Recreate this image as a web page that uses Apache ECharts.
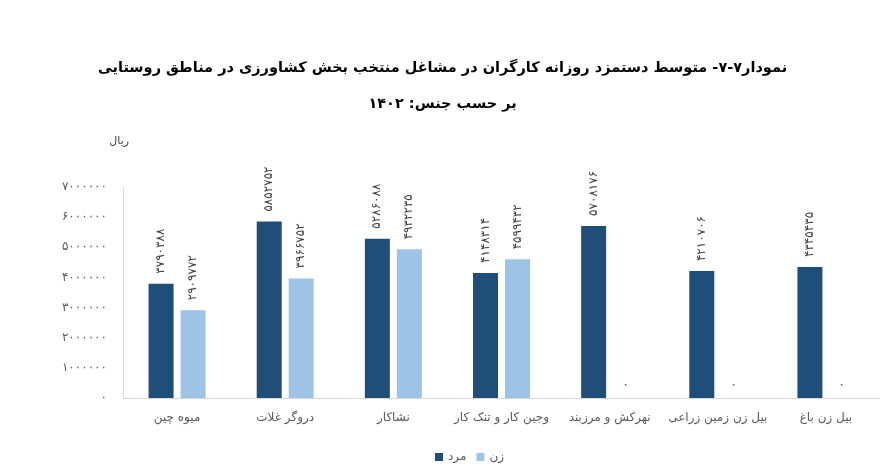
<!DOCTYPE html>
<html>
<head>
<meta charset="utf-8">
<script src="https://cdn.jsdelivr.net/npm/echarts@6/dist/echarts.min.js"></script>
<style>html,body{margin:0;padding:0;background:#fff}#c{width:885px;height:476px}</style>
</head>
<body>
<div id="c"></div>
<script>
const categories = ['میوه چین','دروگر غلات','نشاکار','وجین کار و تنک کار','نهرکش و مرزبند','بیل زن زمین زراعی','بیل زن باغ'];
const menValues = [3790388, 5852752, 5286088, 4148314, 5708176, 4210706, 4345435];
const womenValues = [2909772, 3966752, 4932235, 4599432, 0, 0, 0];
const seriesNames = ['مرد','زن'];
const titleLines = ['نمودار۷-۷- متوسط دستمزد روزانه کارگران در مشاغل منتخب بخش کشاورزی در مناطق روستایی','بر حسب جنس: ۱۴۰۲'];
const yUnit = 'ریال';

const fa = s => String(s).replace(/[0-9]/g, d => '۰۱۲۳۴۵۶۷۸۹'[d]);
const FONT = 'DejaVu Sans';

const chart = echarts.init(document.getElementById('c'));
const labelCfg = {
  show: true, position: 'top', rotate: 90, align: 'left', verticalAlign: 'middle',
  distance: 10, fontFamily: FONT, fontSize: 12, color: '#404040',
  formatter: p => fa(p.value)
};
chart.setOption({
  animation: false,
  textStyle: { fontFamily: FONT },
  title: [
    { text: titleLines[0], left: 'center', top: 56, textStyle: { fontFamily: FONT, fontSize: 14.5, fontWeight: 'bold', color: '#000' } },
    { text: titleLines[1], left: 'center', top: 92, textStyle: { fontFamily: FONT, fontSize: 14.5, fontWeight: 'bold', color: '#000' } }
  ],
  legend: {
    data: seriesNames, bottom: 8, left: 430, itemWidth: 8, itemHeight: 8, itemGap: 10,
    icon: 'rect', textStyle: { fontFamily: FONT, fontSize: 12, color: '#595959' }
  },
  grid: { left: 123, right: 5, top: 187, bottom: 78, containLabel: false },
  xAxis: {
    type: 'category', data: categories,
    axisLine: { lineStyle: { color: '#D9D9D9', width: 1 } },
    axisTick: { show: false },
    axisLabel: { fontFamily: FONT, fontSize: 12, color: '#595959', margin: 14, interval: 0 }
  },
  yAxis: {
    type: 'value', min: 0, max: 7000000, interval: 1000000,
    name: yUnit, nameLocation: 'end', nameGap: 40,
    nameTextStyle: { fontFamily: FONT, fontSize: 11, color: '#404040', align: 'right', padding: [0, -6, 0, 0] },
    axisLine: { show: true, lineStyle: { color: '#D9D9D9' } },
    axisTick: { show: false },
    splitLine: { show: false },
    axisLabel: { fontFamily: FONT, fontSize: 12, color: '#595959', margin: 16, formatter: v => fa(v) }
  },
  series: [
    { name: seriesNames[0], type: 'bar', data: menValues, barWidth: 25, barGap: '28%',
      itemStyle: { color: '#1F4E79' }, label: labelCfg },
    { name: seriesNames[1], type: 'bar', data: womenValues, barWidth: 25,
      itemStyle: { color: '#9DC3E6' }, label: labelCfg }
  ]
});
</script>
</body>
</html>
